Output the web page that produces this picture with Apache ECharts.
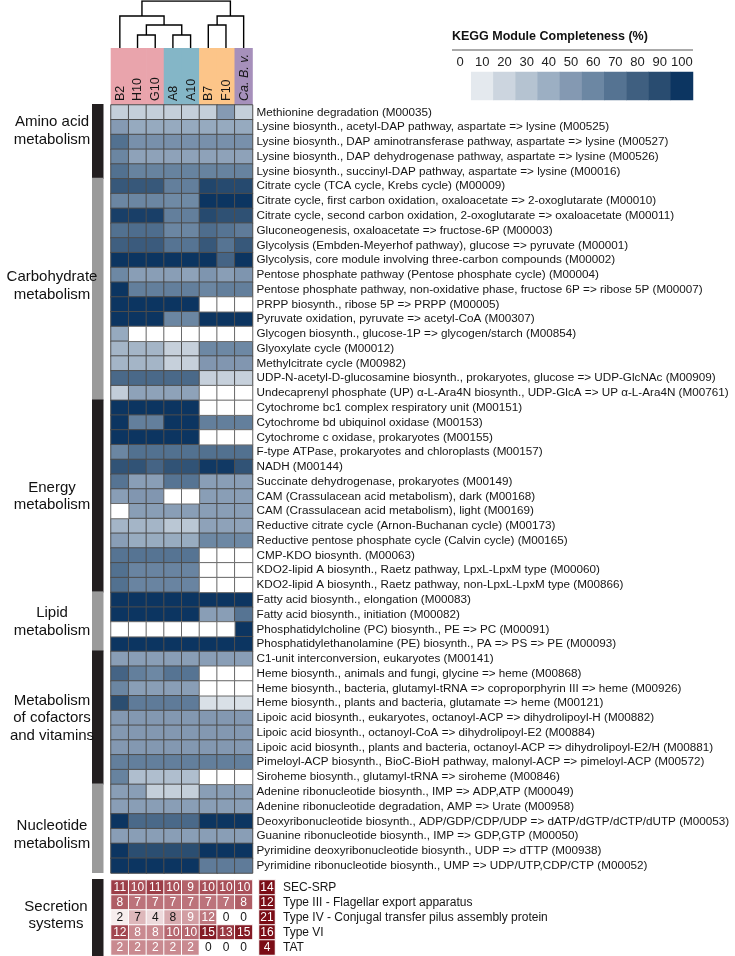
<!DOCTYPE html>
<html><head><meta charset="utf-8">
<script src="https://cdn.jsdelivr.net/npm/echarts@6/dist/echarts.min.js"></script>
<style>html,body{margin:0;padding:0;background:#fff}#c{width:735px;height:956px}</style>
</head><body><div id="c"></div>
<script>
// ---------------- data ----------------
const genomes = ['B2','H10','G10','A8','A10','B7','F10','Ca. B. v.'];
const cladeOfGenome = [0,0,0,1,1,2,2,3];
const cladeColors = ['#e9a4ac','#84b6c7','#fcc589','#a690bb'];
// merges: [childA, childB, height]; leaves are 0..7, new nodes numbered from 8
const dendroMerges = [[1,2,13],[3,4,13],[8,9,23],[0,10,32],[5,6,23],[12,7,32],[11,13,47]];

const modules = [
 'Methionine degradation (M00035)',
 'Lysine biosynth., acetyl-DAP pathway, aspartate => lysine (M00525)',
 'Lysine biosynth., DAP aminotransferase pathway, aspartate => lysine (M00527)',
 'Lysine biosynth., DAP dehydrogenase pathway, aspartate => lysine (M00526)',
 'Lysine biosynth., succinyl-DAP pathway, aspartate => lysine (M00016)',
 'Citrate cycle (TCA cycle, Krebs cycle) (M00009)',
 'Citrate cycle, first carbon oxidation, oxaloacetate => 2-oxoglutarate (M00010)',
 'Citrate cycle, second carbon oxidation, 2-oxoglutarate => oxaloacetate (M00011)',
 'Gluconeogenesis, oxaloacetate => fructose-6P (M00003)',
 'Glycolysis (Embden-Meyerhof pathway), glucose => pyruvate (M00001)',
 'Glycolysis, core module involving three-carbon compounds (M00002)',
 'Pentose phosphate pathway (Pentose phosphate cycle) (M00004)',
 'Pentose phosphate pathway, non-oxidative phase, fructose 6P => ribose 5P (M00007)',
 'PRPP biosynth., ribose 5P => PRPP (M00005)',
 'Pyruvate oxidation, pyruvate => acetyl-CoA (M00307)',
 'Glycogen biosynth., glucose-1P => glycogen/starch (M00854)',
 'Glyoxylate cycle (M00012)',
 'Methylcitrate cycle (M00982)',
 'UDP-N-acetyl-D-glucosamine biosynth., prokaryotes, glucose => UDP-GlcNAc (M00909)',
 'Undecaprenyl phosphate (UP) \u03b1-L-Ara4N biosynth., UDP-GlcA => UP \u03b1-L-Ara4N (M00761)',
 'Cytochrome bc1 complex respiratory unit (M00151)',
 'Cytochrome bd ubiquinol oxidase (M00153)',
 'Cytochrome c oxidase, prokaryotes (M00155)',
 'F-type ATPase, prokaryotes and chloroplasts (M00157)',
 'NADH (M00144)',
 'Succinate dehydrogenase, prokaryotes (M00149)',
 'CAM (Crassulacean acid metabolism), dark (M00168)',
 'CAM (Crassulacean acid metabolism), light (M00169)',
 'Reductive citrate cycle (Arnon-Buchanan cycle) (M00173)',
 'Reductive pentose phosphate cycle (Calvin cycle) (M00165)',
 'CMP-KDO biosynth. (M00063)',
 'KDO2-lipid A biosynth., Raetz pathway, LpxL-LpxM type (M00060)',
 'KDO2-lipid A biosynth., Raetz pathway, non-LpxL-LpxM type (M00866)',
 'Fatty acid biosynth., elongation (M00083)',
 'Fatty acid biosynth., initiation (M00082)',
 'Phosphatidylcholine (PC) biosynth., PE => PC (M00091)',
 'Phosphatidylethanolamine (PE) biosynth., PA => PS => PE (M00093)',
 'C1-unit interconversion, eukaryotes (M00141)',
 'Heme biosynth., animals and fungi, glycine => heme (M00868)',
 'Heme biosynth., bacteria, glutamyl-tRNA => coproporphyrin III => heme (M00926)',
 'Heme biosynth., plants and bacteria, glutamate => heme (M00121)',
 'Lipoic acid biosynth., eukaryotes, octanoyl-ACP => dihydrolipoyl-H (M00882)',
 'Lipoic acid biosynth., octanoyl-CoA => dihydrolipoyl-E2 (M00884)',
 'Lipoic acid biosynth., plants and bacteria, octanoyl-ACP => dihydrolipoyl-E2/H (M00881)',
 'Pimeloyl-ACP biosynth., BioC-BioH pathway, malonyl-ACP => pimeloyl-ACP (M00572)',
 'Siroheme biosynth., glutamyl-tRNA => siroheme (M00846)',
 'Adenine ribonucleotide biosynth., IMP => ADP,ATP (M00049)',
 'Adenine ribonucleotide degradation, AMP => Urate (M00958)',
 'Deoxyribonucleotide biosynth., ADP/GDP/CDP/UDP => dATP/dGTP/dCTP/dUTP (M00053)',
 'Guanine ribonucleotide biosynth., IMP => GDP,GTP (M00050)',
 'Pyrimidine deoxyribonucleotide biosynth., UDP => dTTP (M00938)',
 'Pyrimidine ribonucleotide biosynth., UMP => UDP/UTP,CDP/CTP (M00052)'
];

// completeness (%) per module row, columns in genome order
const completeness = [
 [15,15,15,15,15,15,44,15],
 [44,36,36,36,36,36,36,36],
 [68,50,50,50,50,50,50,50],
 [56,40,40,40,40,40,40,40],
 [68,58,58,58,58,58,58,58],
 [82,82,82,60,60,92,90,90],
 [56,56,56,54,54,100,100,100],
 [95,95,95,60,60,90,86,86],
 [68,70,70,56,56,70,66,62],
 [78,80,80,66,66,82,66,82],
 [100,100,100,100,100,100,75,100],
 [55,42,42,42,40,47,42,47],
 [100,60,60,60,60,56,60,60],
 [100,100,100,100,100,0,0,0],
 [100,100,100,56,56,100,100,100],
 [36,0,0,0,0,0,0,0],
 [30,30,30,14,14,55,55,55],
 [30,30,30,14,14,46,46,46],
 [72,72,72,72,72,14,14,14],
 [16,40,40,40,40,0,0,0],
 [100,100,100,100,100,0,0,0],
 [100,60,60,100,100,60,60,60],
 [100,100,100,100,100,0,0,0],
 [56,68,68,68,68,68,68,68],
 [85,85,75,85,85,98,98,85],
 [66,42,42,66,66,42,42,42],
 [42,46,46,0,0,42,42,42],
 [0,42,42,42,42,42,42,42],
 [30,30,30,20,20,40,40,40],
 [42,35,35,35,35,55,55,55],
 [66,66,66,66,66,0,0,0],
 [68,57,57,57,57,0,0,0],
 [68,57,57,57,57,0,0,0],
 [100,100,100,100,100,100,100,100],
 [100,100,100,100,100,42,42,66],
 [0,0,0,0,0,0,0,100],
 [100,100,100,100,100,100,100,100],
 [42,42,42,42,42,42,42,42],
 [75,60,55,66,66,0,0,0],
 [56,42,42,42,42,0,0,0],
 [88,62,62,62,62,5,5,5],
 [45,45,45,45,45,45,45,45],
 [45,45,45,45,45,45,45,45],
 [45,45,45,45,45,45,45,45],
 [60,60,60,60,60,60,60,60],
 [58,25,25,25,25,0,0,0],
 [42,42,15,15,15,42,42,42],
 [42,42,42,42,42,42,42,42],
 [100,72,72,72,72,100,100,100],
 [42,42,42,42,42,42,42,42],
 [100,88,88,88,88,100,100,100],
 [100,100,100,100,100,62,62,62]
];

const groupNames = ['Amino acid\nmetabolism','Carbohydrate\nmetabolism','Energy\nmetabolism','Lipid\nmetabolism','Metabolism\nof cofactors\nand vitamins','Nucleotide\nmetabolism'];
const groupSizes = [5,15,13,4,9,6];

const secretionSystems = ['SEC-SRP','Type III - Flagellar export apparatus','Type IV - Conjugal transfer pilus assembly protein','Type VI','TAT'];
const secretionCounts = [
 [11,10,11,10,9,10,10,10],
 [8,7,7,7,7,7,7,8],
 [2,7,4,8,9,12,0,0],
 [12,8,8,10,10,15,13,15],
 [2,2,2,2,2,0,0,0]
];
const secretionTotals = [14,12,21,16,4];

const legendTicks = ['0','10','20','30','40','50','60','70','80','90','100'];
const legendBinValues = [5,15,25,35,45,55,65,75,85,95];
const blueScale = ['#e4e9ee','#ccd5df','#b5c3d1','#9cafc3','#8499b2','#6c87a3','#557392','#3f5f80','#294c70','#0c3561'];

// ---------------- build ----------------
const FONT = '"Liberation Sans", Arial, Helvetica, sans-serif';
const G = {left:111, width:141.5};

// dendrogram
const nodeX = genomes.map((g,i)=>i+0.5), nodeH = genomes.map(()=>0);
const dendroLines = [];
dendroMerges.forEach(([a,b,h])=>{
  dendroLines.push({coords:[[nodeX[a],nodeH[a]],[nodeX[a],h],[nodeX[b],h],[nodeX[b],nodeH[b]]]});
  nodeX.push((nodeX[a]+nodeX[b])/2); nodeH.push(h);
});

const heatNonZero = [], heatZero = [];
completeness.forEach((row,r)=>row.forEach((v,c)=>{ (v>0?heatNonZero:heatZero).push([c,r,v]); }));

const groupData = []; let acc = 0;
groupSizes.forEach((n,i)=>{ groupData.push([0, acc, acc+n-1, i]); acc += n; });
const groupLabelShift = [-11,-4,0,0,0,6];

const secData = [];
secretionCounts.forEach((row,r)=>row.forEach((v,c)=>{
  const f = v/secretionTotals[r];
  secData.push({value:[c,r,f,v], label:{color: f>=0.4?'#ffffff':'#151515'}});
}));
const totData = secretionTotals.map((t,r)=>({value:[0,r,1,t]}));
const legendData = legendBinValues.map((v,i)=>[i+1,0,v]);

function groupBarRender(names){
  return function(params, api){
    const i = api.value(3);
    const s = api.value(1), e = api.value(2);
    const rowH = api.size([0,1])[1];
    const colW = api.size([1,0])[0];
    const left = api.coord([0,s])[0] - colW/2;
    const top = api.coord([0,s])[1] - rowH/2;
    const bot = api.coord([0,e])[1] + rowH/2;
    return {type:'group', children:[
      {type:'rect', shape:{x:left-19, y:top-1, width:11.5, height:bot-top+1}, style:{fill: i%2===0?'#231f20':'#9a9a9a'}},
      {type:'text', x:left-59, y:(top+bot)/2+groupLabelShift[i], style:{text:names[i], font:'15px '+FONT, fill:'#111', align:'center', verticalAlign:'middle', lineHeight:17.5}}
    ]};
  };
}

const gridBase = {containLabel:false, outerBoundsMode:'none'};
const option = {
  animation:false,
  backgroundColor:'#ffffff',
  textStyle:{fontFamily:FONT},
  grid:[
    Object.assign({left:G.left, width:G.width, top:1, height:47}, gridBase),
    Object.assign({left:G.left, width:G.width, top:48, height:57}, gridBase),
    Object.assign({left:G.left, width:G.width, top:105, height:768}, gridBase),
    Object.assign({left:G.left, width:G.width, top:880, height:75}, gridBase),
    Object.assign({left:259, width:16, top:880, height:75}, gridBase),
    Object.assign({left:449, width:244, top:72, height:28}, gridBase)
  ],
  xAxis:[
    {gridIndex:0, type:'value', min:0, max:8, show:false},
    {gridIndex:1, type:'category', data:genomes, show:false},
    {gridIndex:2, type:'category', data:genomes, show:false},
    {gridIndex:3, type:'category', data:genomes, show:false},
    {gridIndex:4, type:'category', data:['total'], show:false},
    {gridIndex:5, type:'category', data:legendTicks, position:'top',
      axisLine:{show:false}, axisTick:{show:false},
      axisLabel:{fontSize:13, color:'#222', margin:3, interval:0}}
  ],
  yAxis:[
    {gridIndex:0, type:'value', min:0, max:47, show:false},
    {gridIndex:1, type:'value', min:0, max:1, show:false},
    {gridIndex:2, type:'category', data:modules, inverse:true, position:'right',
      axisLine:{show:false}, axisTick:{show:false},
      axisLabel:{fontSize:11.7, color:'#151515', margin:4, interval:0}},
    {gridIndex:3, type:'category', data:secretionSystems, inverse:true, show:false},
    {gridIndex:4, type:'category', data:secretionSystems, inverse:true, position:'right',
      axisLine:{show:false}, axisTick:{show:false},
      axisLabel:{fontSize:12, color:'#151515', margin:8, interval:0}},
    {gridIndex:5, type:'category', data:['legend'], show:false}
  ],
  visualMap:[
    {type:'continuous', show:false, seriesIndex:2, min:0, max:100, inRange:{color:blueScale}},
    {type:'continuous', show:false, seriesIndex:[5,7], min:0, max:1, dimension:2,
      inRange:{color:['#ffffff','#e8cfd1','#c98a90','#a24650','#7a0d16']}},
    {type:'piecewise', show:false, seriesIndex:8,
      pieces: blueScale.map((c,i)=>({gte:i*10, lt:i*10+10, color:c}))}
  ],
  graphic:[
    {type:'text', left:452, top:30, style:{text:'KEGG Module Completeness (%)', font:'bold 12.5px '+FONT, fill:'#111'}},
    {type:'line', shape:{x1:452, y1:50, x2:693, y2:50}, style:{stroke:'#555', lineWidth:1}}
  ],
  series:[
    {type:'lines', coordinateSystem:'cartesian2d', xAxisIndex:0, yAxisIndex:0, polyline:true,
      data:dendroLines, lineStyle:{color:'#000', width:1.4, opacity:1}, silent:true},
    {type:'custom', xAxisIndex:1, yAxisIndex:1, data:genomes.map((g,i)=>[i,1,cladeOfGenome[i]]),
      renderItem:function(params, api){
        const i = api.value(0);
        const p0 = api.coord([i,0]), p1 = api.coord([i,1]);
        const w = api.size([1,0])[0];
        const italic = i===7;
        return {type:'group', children:[
          {type:'rect', shape:{x:p0[0]-w/2-0.3, y:p1[1], width:w+0.6, height:p0[1]-p1[1]}, style:{fill:cladeColors[api.value(2)]}},
          {type:'text', x:p0[0]+0.5, y:p0[1]-4, rotation:Math.PI/2,
            style:{text:genomes[i], font:(italic?'italic ':'')+'12.5px '+FONT, fill:'#151515', align:'left', verticalAlign:'middle'}}
        ]};
      }},
    {type:'heatmap', xAxisIndex:2, yAxisIndex:2, data:heatNonZero,
      itemStyle:{borderColor:'#4d4d4d', borderWidth:1}},
    {type:'heatmap', xAxisIndex:2, yAxisIndex:2, data:heatZero,
      itemStyle:{color:'#ffffff', borderColor:'#6a6a6a', borderWidth:1}},
    {type:'custom', xAxisIndex:2, yAxisIndex:2, data:groupData, renderItem:groupBarRender(groupNames)},
    {type:'heatmap', xAxisIndex:3, yAxisIndex:3, data:secData,
      itemStyle:{borderColor:'#ffffff', borderWidth:1},
      label:{show:true, fontSize:12, formatter:p=>String(p.value[3])}},
    {type:'custom', xAxisIndex:3, yAxisIndex:3, data:[[0,0,4,6]],
      renderItem:function(params, api){
        const s = api.value(1), e = api.value(2);
        const rowH = api.size([0,1])[1];
        const colW = api.size([1,0])[0];
        const left = api.coord([0,s])[0] - colW/2;
        const top = api.coord([0,s])[1] - rowH/2;
        const bot = api.coord([0,e])[1] + rowH/2;
        return {type:'group', children:[
          {type:'rect', shape:{x:left-19, y:top-1, width:11.5, height:bot-top+2}, style:{fill:'#231f20'}},
          {type:'text', x:left-55, y:(top+bot)/2-2, style:{text:'Secretion\nsystems', font:'15px '+FONT, fill:'#111', align:'center', verticalAlign:'middle', lineHeight:17.5}}
        ]};
      }},
    {type:'heatmap', xAxisIndex:4, yAxisIndex:4, data:totData,
      itemStyle:{borderColor:'#ffffff', borderWidth:1},
      label:{show:true, fontSize:12, color:'#ffffff', formatter:p=>String(p.value[3])}},
    {type:'heatmap', xAxisIndex:5, yAxisIndex:5, data:legendData, itemStyle:{borderWidth:0}}
  ]
};
const chart = echarts.init(document.getElementById('c'), null, {renderer:'canvas'});
chart.setOption(option);
</script>
</body></html>
